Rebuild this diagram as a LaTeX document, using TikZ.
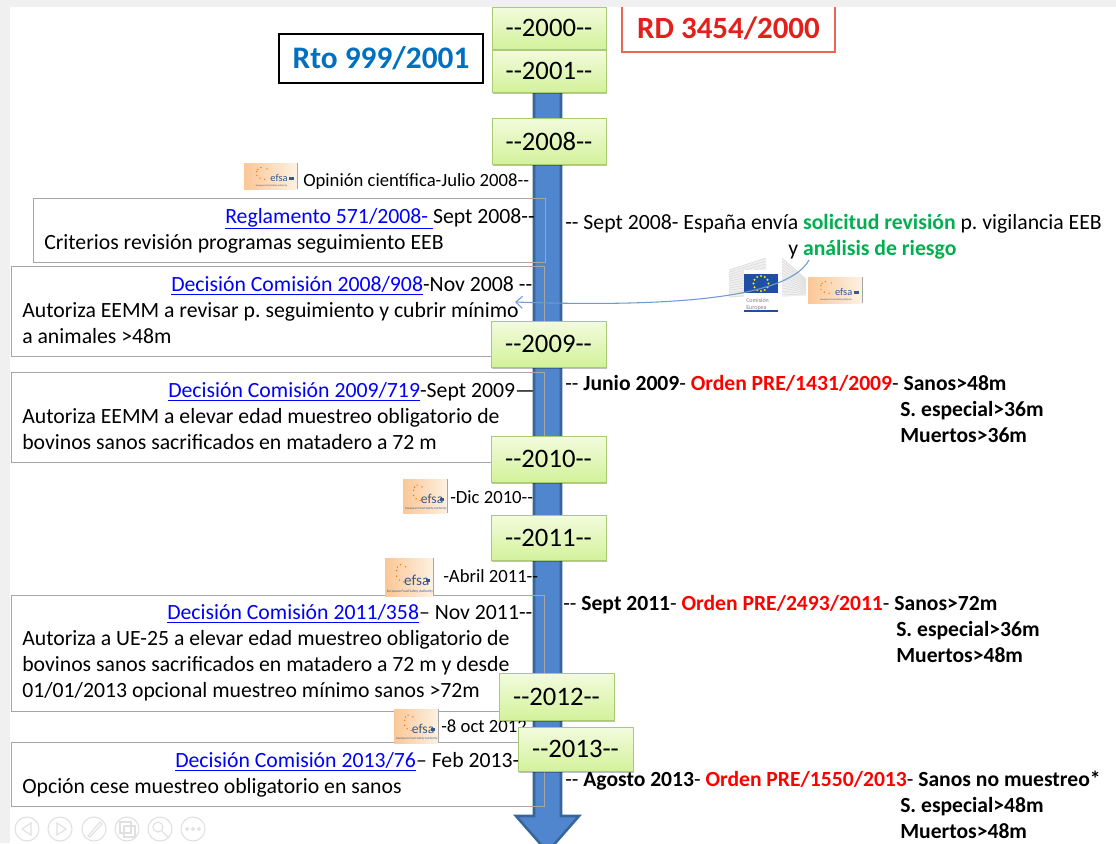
\documentclass[tikz,border=0pt]{standalone}
\usepackage{fontspec}
\setmainfont{Carlito}[Ligatures=TeXOff]
\frenchspacing
\usetikzlibrary{shadows,arrows.meta}
\definecolor{linkblue}{HTML}{0000FF}
\definecolor{ordred}{HTML}{FF0000}
\definecolor{solgreen}{HTML}{00B050}
\definecolor{shaftfill}{HTML}{4F86CE}
\definecolor{shaftedge}{HTML}{38669C}
\definecolor{boxline}{HTML}{A6A6A6}
\definecolor{icongray}{HTML}{E0E0E0}
\definecolor{yeartop}{HTML}{F3FBDD}
\definecolor{yearbot}{HTML}{D3F29B}
\definecolor{yearline}{HTML}{A9CB74}
\definecolor{efsaL}{HTML}{FBC796}
\definecolor{efsaR}{HTML}{FDF1E2}
\definecolor{efsaink}{HTML}{35598F}
\definecolor{ecblue}{HTML}{1F4FA3}
\definecolor{curveblue}{HTML}{6F9BD1}
\newcommand{\fsmain}{\fontsize{16.3pt}{19pt}\selectfont}
\newcommand{\fssmall}{\fontsize{14pt}{17pt}\selectfont}
\newcommand{\fsbold}{\fontsize{16.2pt}{19pt}\selectfont\bfseries}
\newcommand{\lnk}[1]{\textcolor{linkblue}{\underline{#1}}}
\tikzset{
  yearbox/.style={draw=yearline, line width=0.75pt, top color=yeartop, bottom color=yearbot, inner sep=0pt,
    font=\fontsize{20pt}{24pt}\selectfont, text=black,
    drop shadow={shadow xshift=0.8pt, shadow yshift=-1.2pt, opacity=0.25, fill=black}},
  txtbox/.style={draw=boxline, line width=0.9pt, anchor=north west, inner sep=0pt},
  tl/.style={anchor=base west, inner sep=0pt, font=\fsmain, text=black},
  tr/.style={anchor=base west, inner sep=0pt, font=\fsbold, text=black},
  ts/.style={anchor=base west, inner sep=0pt, font=\fssmall, text=black},
  efsabg/.style={left color=efsaL, right color=efsaR},
}
\newcommand{\yearnode}[6]{\node[yearbox, minimum width=#4*0.75pt, minimum height=#5*0.75pt] (#1) at (#2,#3) {#6};}
\newcommand{\whitebox}[4]{\fill[white] (#1,#2) rectangle (#3,#4);}
% efsa logo: name, x1, y1, width, height
\newcommand{\efsalogo}[5]{%
  \pgfmathsetmacro{\efA}{#5*0.30}\pgfmathsetmacro{\efB}{#5*0.07}%
  \begin{scope}[shift={(#2,#3)}, x=#4*0.0075pt, y=-#5*0.0075pt]
    \fill[efsabg] (0,0) rectangle (100,100);
    \draw[gray!70, line width=0.5pt] (100,0) -- (100,100);
    \foreach \a/\b in {32/18,43/23,26/24,24/33,24/48,30/58,39/63}{\fill[orange!85!red] (\a,\b) circle[radius=0.55pt];}
    \node[inner sep=0pt, text=efsaink] (#1) at (66,58) {\fontsize{\efA pt}{\efA pt}\selectfont efsa};
    \fill[efsaink] (85,55) rectangle (94,64);
    \node[inner sep=0pt, text=efsaink] (#1txt) at (52,87) {\fontsize{\efB pt}{\efB pt}\selectfont European Food Safety Authority};
  \end{scope}}
\begin{document}
\begin{tikzpicture}[x=0.75pt,y=-0.75pt]
\path[use as bounding box] (0,0) rectangle (1116,843);
\begin{scope}
\clip (0,0) rectangle (1116,843);
\fill[white] (0,0) rectangle (1116,843);
\fill[gray!12] (0,0) rectangle (10,843);
% white faces of the text boxes
\whitebox{33}{198}{545}{262}
\whitebox{11}{266}{544}{356}
\whitebox{11}{372}{544}{462}
\whitebox{11}{595}{544}{711}
\whitebox{11}{742}{544}{806}
% main arrow
\draw[fill=shaftfill, draw=shaftedge, line width=1.9pt, line join=miter]
  (534,80) -- (561,80) -- (561,816) -- (579,816) -- (547.5,852) -- (516,816) -- (534,816) -- cycle;
% text box outlines
\node[txtbox, minimum width=512*0.75pt, minimum height=64*0.75pt] (b571) at (33,198) {};
\node[txtbox, minimum width=533*0.75pt, minimum height=90*0.75pt] (b908) at (11,266) {};
\node[txtbox, minimum width=533*0.75pt, minimum height=90*0.75pt] (b719) at (11,372) {};
\node[txtbox, minimum width=533*0.75pt, minimum height=116*0.75pt] (b358) at (11,595) {};
\node[txtbox, minimum width=533*0.75pt, minimum height=64*0.75pt] (b76) at (11,742) {};
% left column texts
\node[ts] (op) at (303,186) {Opinión científica-Julio 2008--};
\node[tl] (t1a) at (225,223) {\lnk{Reglamento 571/2008-\ }Sept 2008--};
\node[tl] (t1b) at (44,249) {Criterios revisión programas seguimiento EEB};
\node[tl] (t2a) at (171,291) {\lnk{Decisión Comisión 2008/908}-Nov 2008 --};
\node[tl] (t2b) at (22,317) {Autoriza EEMM a revisar p. seguimiento y cubrir mínimo};
\node[tl] (t2c) at (22,343) {a animales >48m};
\node[tl] (t3a) at (168,397) {\lnk{Decisión Comisión 2009/719}-Sept 2009—};
\node[tl] (t3b) at (22,423) {Autoriza EEMM a elevar edad muestreo obligatorio de};
\node[tl] (t3c) at (22,449) {bovinos sanos sacrificados en matadero a 72 m};
\node[ts] (dic) at (450,503) {-Dic 2010--};
\node[ts] (abr) at (443,582) {-Abril 2011--};
\node[tl] (t4a) at (167,619) {\lnk{Decisión Comisión 2011/358}– Nov 2011--};
\node[tl] (t4b) at (22,645) {Autoriza a UE-25 a elevar edad muestreo obligatorio de};
\node[tl] (t4c) at (22,671) {bovinos sanos sacrificados en matadero a 72 m y desde};
\node[tl] (t4d) at (22,697) {01/01/2013 opcional muestreo mínimo sanos >72m};
\node[ts] (oct) at (441,732) {-8 oct 2012};
\node[tl] (t5a) at (175,767) {\lnk{Decisión Comisión 2013/76}– Feb 2013-};
\node[tl] (t5b) at (22,793) {Opción cese muestreo obligatorio en sanos};
% efsa logos
\efsalogo{ef1}{244}{163}{53}{26}
\efsalogo{ef2}{403}{479}{44}{34}
\efsalogo{ef3}{385}{558}{48}{38}
\efsalogo{ef4}{394}{709}{44}{34}
\efsalogo{ef5}{808}{277}{54}{26}
% right column texts
\node[tl] (r1a) at (565,229) {-- Sept 2008- España envía \textcolor{solgreen}{\textbf{solicitud revisión}} p. vigilancia EEB};
\node[tl] (r1b) at (788,255) {y \textcolor{solgreen}{\textbf{análisis de riesgo}}};
\node[tr] (r2a) at (565,390) {\mdseries --\ \bfseries Junio 2009\mdseries - \bfseries\textcolor{ordred}{Orden PRE/1431/2009}\mdseries - \bfseries Sanos>48m};
\node[tr] (r2b) at (900,416) {S. especial>36m};
\node[tr] (r2c) at (900,442) {Muertos>36m};
\node[tr] (r3a) at (563,610) {\mdseries --\ \bfseries Sept 2011\mdseries - \bfseries\textcolor{ordred}{Orden PRE/2493/2011}\mdseries - \bfseries Sanos>72m};
\node[tr] (r3b) at (896,636) {S. especial>36m};
\node[tr] (r3c) at (896,662) {Muertos>48m};
\node[tr] (r4a) at (565,786) {\mdseries --\ \bfseries Agosto 2013\mdseries - \bfseries\textcolor{ordred}{Orden PRE/1550/2013}\mdseries - \bfseries Sanos no muestreo*};
\node[tr] (r4b) at (900,812) {S. especial>48m};
\node[tr] (r4c) at (900,838) {Muertos>48m};
% European Commission logo
\fill[gray!12] (729,270) -- (766,258) -- (766,297) -- (729,297) -- cycle;
\fill[gray!12] (782,258) -- (806,279) -- (806,295) -- (782,297) -- cycle;
\foreach \yy in {0,3,...,36}{
  \draw[gray!30, line width=0.4pt] (729,{270+\yy*0.75}) -- (766,{258+\yy});
  \draw[gray!30, line width=0.4pt] (782,{258+\yy}) -- (806,{279+\yy*0.45});
}
\fill[white] (744,270) rectangle (778,312);
\fill[ecblue] (744,274) rectangle (778,293);
\foreach \ang in {0,30,...,330}{\fill[yellow!90!orange] ({761+7.5*cos(\ang)},{283.5+7.5*sin(\ang)}) circle[radius=0.8pt];}
\node[inner sep=0pt, align=left, text=gray, anchor=north west, font=\fontsize{4.5pt}{5.5pt}\selectfont] (ec) at (746,298) {Comisión\\Europea};
\fill[ecblue] (744,310) rectangle (778,312);
% curved arrow
\coordinate (cs) at (809,260);
\coordinate (ce) at (515,302);
\draw[color=curveblue, line width=0.8pt, -{Straight Barb[length=5pt,width=9pt]}] (cs) .. controls (790,295) and (690,308) .. (ce);
% year boxes
\yearnode{y2000}{549}{28}{114}{42}{--2000--}
\yearnode{y2001}{549}{71}{114}{42}{--2001--}
\yearnode{y2008}{549}{141}{114}{46}{--2008--}
\yearnode{y2009}{548.5}{344}{115}{46}{--2009--}
\yearnode{y2010}{548.5}{459}{115}{46}{--2010--}
\yearnode{y2011}{548.5}{538}{115}{45}{--2011--}
\yearnode{y2012}{556.5}{697}{115}{47}{--2012--}
\yearnode{y2013}{575.5}{749}{115}{44}{--2013--}
% title boxes
\node[draw=black, line width=2.2pt, fill=white, minimum width=204*0.75pt, minimum height=49*0.75pt, inner sep=0pt,
  font=\fontsize{23.5pt}{28pt}\selectfont\bfseries] (rto) at (381,58.5) {\textcolor[HTML]{0070C0}{Rto 999/2001}};
\node[draw=red!60!brown!75, line width=2.2pt, fill=white, minimum width=213*0.75pt, minimum height=48*0.75pt, inner sep=0pt,
  font=\fontsize{23.2pt}{28pt}\selectfont\bfseries] (rd) at (728.5,28) {\textcolor[HTML]{E3201B}{RD 3454/2000}};
% top strip
\fill[gray!12] (0,0) rectangle (1116,7);
% viewer toolbar
\begin{scope}[icongray, line width=0.8pt]
\foreach \cx in {27,60,94,127,160,193}{\draw (\cx,829) circle[radius=9pt];}
\draw (31,823) -- (22,829) -- (31,835) -- cycle;
\draw (57,823) -- (66,829) -- (57,835) -- cycle;
\draw (88,836) -- (100,822) -- (102,824) -- (90,837) -- cycle;
\draw (120,822) rectangle (131,833);
\draw (124,826) rectangle (135,837);
\draw (158,827) circle[radius=3.75pt];
\draw (162,831) -- (168,837);
\foreach \dx in {187,193,199}{\draw (\dx,829) circle[radius=1.1pt];}
\end{scope}
\end{scope}
\end{tikzpicture}
\end{document}
